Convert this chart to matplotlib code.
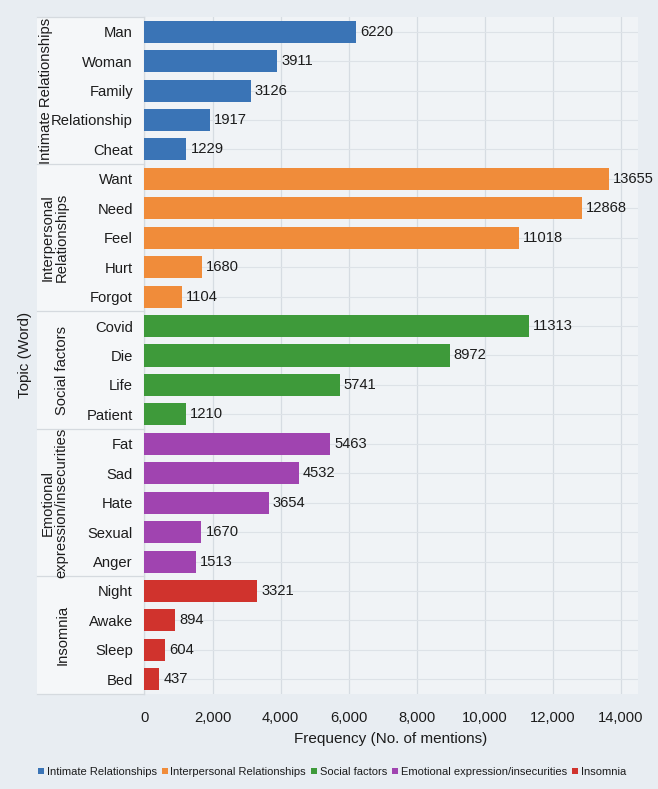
import matplotlib.pyplot as plt
import matplotlib.transforms as mtransforms
from matplotlib.patches import Patch, Rectangle

# Data
groups = ['Intimate Relationships', 'Interpersonal Relationships', 'Social factors',
          'Emotional expression/insecurities', 'Insomnia']
group_labels = ['Intimate Relationships', 'Interpersonal\nRelationships', 'Social factors',
                'Emotional\nexpression/insecurities', 'Insomnia']
words = [
    ['Man', 'Woman', 'Family', 'Relationship', 'Cheat'],
    ['Want', 'Need', 'Feel', 'Hurt', 'Forgot'],
    ['Covid', 'Die', 'Life', 'Patient'],
    ['Fat', 'Sad', 'Hate', 'Sexual', 'Anger'],
    ['Night', 'Awake', 'Sleep', 'Bed'],
]
counts = [
    [6220, 3911, 3126, 1917, 1229],
    [13655, 12868, 11018, 1680, 1104],
    [11313, 8972, 5741, 1210],
    [5463, 4532, 3654, 1670, 1513],
    [3321, 894, 604, 437],
]
colors = ['#3a74b6', '#f08c3a', '#3e9a3a', '#a044b0', '#d0332d']


def main():
    plt.rcParams['font.family'] = ['Liberation Sans Narrow', 'Liberation Sans', 'DejaVu Sans']
    fs = 10.6
    tc = '#1c1c1c'

    fig = plt.figure(figsize=(6.58, 7.89), dpi=100, facecolor='#e8edf2')
    ax = fig.add_axes([0.2196, 0.1204, 0.7493, 0.8581])
    ax.set_facecolor('#f0f3f6')

    # Flatten groups into rows
    all_words, all_counts, all_colors, starts = [], [], [], []
    for g, (w, c) in enumerate(zip(words, counts)):
        starts.append(len(all_words))
        all_words += w
        all_counts += c
        all_colors += [colors[g]] * len(w)
    n = len(all_words)
    ypos = list(range(n))

    bars = ax.barh(ypos, all_counts, height=0.75, color=all_colors, zorder=3)
    ax.bar_label(bars, labels=[str(v) for v in all_counts], padding=3,
                 fontsize=fs, color=tc)

    ax.set_xlim(0, 14500)
    ax.set_ylim(n - 0.5, -0.5)
    ax.set_xticks(range(0, 14001, 2000))
    ax.set_xticklabels([f'{v:,}' for v in range(0, 14001, 2000)], fontsize=fs, color=tc)
    ax.set_yticks(ypos)
    ax.set_yticklabels(all_words, fontsize=fs, color=tc)
    ax.tick_params(axis='both', length=0)
    ax.tick_params(axis='y', pad=8.3)
    ax.tick_params(axis='x', pad=12)
    ax.grid(axis='x', color='#d6dce2', linewidth=0.9, zorder=0)
    ax.grid(axis='y', color='#dde2e7', linewidth=0.8, zorder=0)
    for s in ax.spines.values():
        s.set_visible(False)

    ax.set_xlabel('Frequency (No. of mentions)', fontsize=11, color=tc, labelpad=5)

    # Left panel with group names
    trans = mtransforms.blended_transform_factory(ax.transAxes, ax.transData)
    panel_left = (37 - 144.5) / 493
    ax.add_patch(Rectangle((panel_left, -0.5), -panel_left, n, transform=trans,
                           facecolor='#f5f7f9', edgecolor='none', clip_on=False, zorder=1))
    bounds = starts + [n]
    for b in bounds:
        ax.plot([panel_left, 0], [b - 0.5, b - 0.5], transform=trans, color='#d5dadf',
                linewidth=0.9, clip_on=False, zorder=2)
    ax.plot([0, 0], [-0.5, n - 0.5], transform=trans, color='#d5dadf',
            linewidth=0.9, clip_on=False, zorder=2)
    label_x = [46, 54.5, 62, 54.5, 63]
    for g, lab in enumerate(group_labels):
        yc = (bounds[g] + bounds[g + 1] - 1) / 2
        ax.text((label_x[g] - 144.5) / 493, yc, lab, transform=trans, rotation=90,
                ha='center', va='center', multialignment='center', fontsize=fs,
                color=tc, linespacing=1.0)

    fig.text(25 / 658, 1 - 355 / 789, 'Topic (Word)', rotation=90, ha='center', va='center',
             fontsize=11, color=tc)

    handles = [Patch(facecolor=c, edgecolor='none') for c in colors]
    fig.legend(handles, groups, loc='center', bbox_to_anchor=(332 / 658, 1 - 772 / 789),
               ncol=5, frameon=False, fontsize=8.0, handlelength=0.55, handleheight=0.55,
               handletextpad=0.25, columnspacing=0.45, labelcolor=tc)

    fig.savefig('out.png', dpi=100, facecolor=fig.get_facecolor())


if __name__ == '__main__':
    main()
